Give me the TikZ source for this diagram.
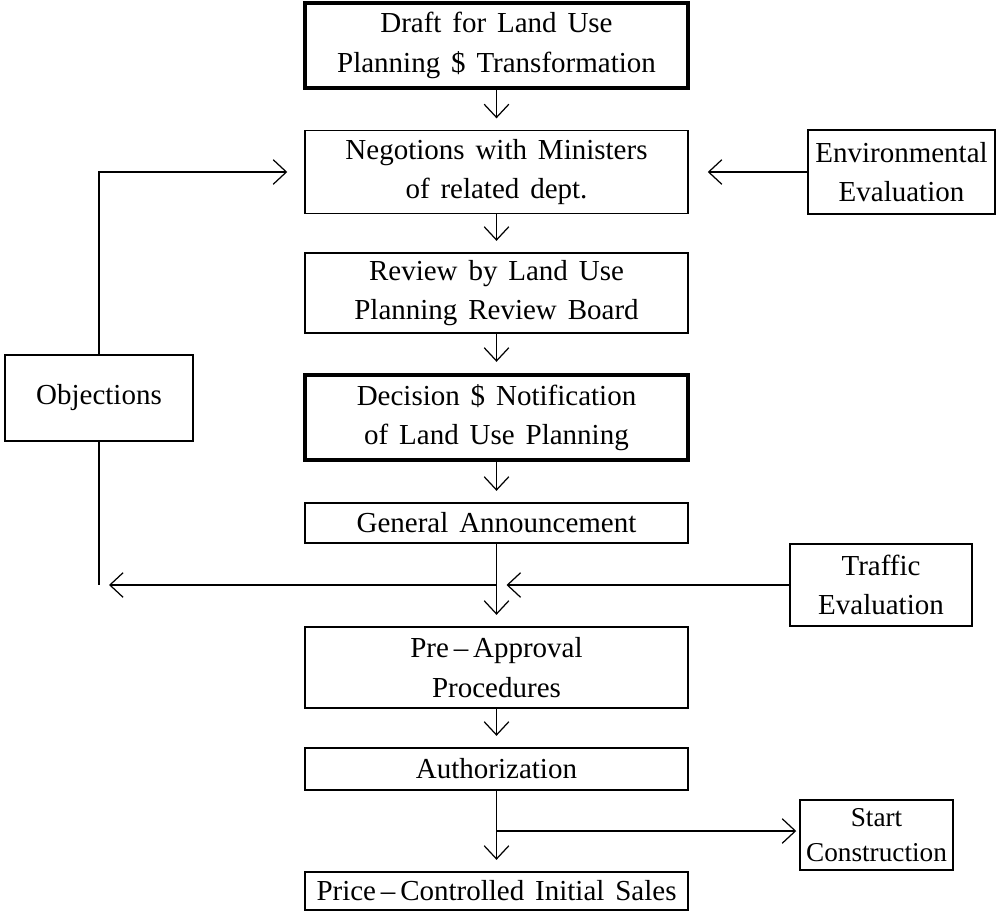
\documentclass[tikz,border=0pt]{standalone}
\usepackage{fontspec}
\setmainfont{Liberation Serif}[WordSpace=1.5]
\usepackage{tikz}
\usetikzlibrary{positioning, arrows.meta}

\begin{document}
\begin{tikzpicture}[
  box/.style={draw, line width=0.85pt, align=center, minimum width=7.66cm, inner sep=0pt,
    font=\fontsize{16.5}{22.5}\selectfont},
  thickbox/.style={box, line width=2pt},
  sidebox/.style={box, minimum width=0cm},
  arr/.style={line width=0.7pt, -{Straight Barb[length=7.5pt, width=14pt, line width=0.7pt]}}
]
\useasboundingbox (0,0) rectangle (20.04,-18.24);

\node[thickbox, minimum height=1.70cm] (draft) at (9.93,-0.91) {Draft for Land Use\\Planning \$ Transformation};
\node[box, minimum height=1.66cm] (nego) at (9.93,-3.44) {Negotions with Ministers\\of related dept.};
\node[box, minimum height=1.60cm] (review) at (9.93,-5.86) {Review by Land Use\\Planning Review Board};
\node[thickbox, minimum height=1.70cm] (decision) at (9.93,-8.35) {Decision \$ Notification\\of Land Use Planning};
\node[box, minimum height=0.80cm] (announce) at (9.93,-10.46) {General Announcement};
\node[box, minimum height=1.62cm] (preapp) at (9.93,-13.35) {Pre\,--\,Approval\\Procedures};
\node[box, minimum height=0.84cm] (auth) at (9.93,-15.38) {Authorization};
\node[box, minimum height=0.76cm] (sales) at (9.93,-17.82) {Price\,--\,Controlled Initial Sales};

\node[sidebox, minimum width=3.76cm, minimum height=1.72cm] (obj) at (1.98,-7.96) {Objections};
\node[sidebox, minimum width=3.74cm, minimum height=1.68cm] (env) at (18.03,-3.44) {Environmental\\Evaluation};
\node[sidebox, minimum width=3.64cm, minimum height=1.64cm] (traffic) at (17.62,-11.70) {Traffic\\Evaluation};
\node[sidebox, minimum width=3.06cm, minimum height=1.40cm, font=\fontsize{15.5}{20}\selectfont] (start) at (17.53,-16.70) {Start\\Construction};

\coordinate (split) at (announce.south |- traffic.west);
\coordinate (fork) at (9.93,-16.62);

% main column
\draw[arr, shorten >=6.5pt] (draft) -- (nego);
\draw[arr, shorten >=6.5pt] (nego) -- (review);
\draw[arr, shorten >=6.5pt] (review) -- (decision);
\draw[arr, shorten >=6.5pt] (decision) -- (announce);
\draw[arr, shorten >=6.5pt] (announce) -- (preapp);
\draw[arr, shorten >=6.5pt] (preapp) -- (auth);
\draw[arr, shorten >=6.5pt] (auth) -- (sales);

% side inputs
\draw[arr, shorten >=0.38cm] (env) -- (nego);
\draw[arr, shorten >=0.2cm] (traffic.west) -- (split);
\draw[arr, shorten >=0.2cm] (split) -- (split -| obj.south);
\draw[line width=0.7pt] (obj.south) -- (split -| obj.south);
\draw[arr, shorten >=0.34cm] (obj.north) |- (nego.west);
\draw[arr, shorten >=0.06cm] (fork) -- (fork -| start.west);
\end{tikzpicture}
\end{document}
